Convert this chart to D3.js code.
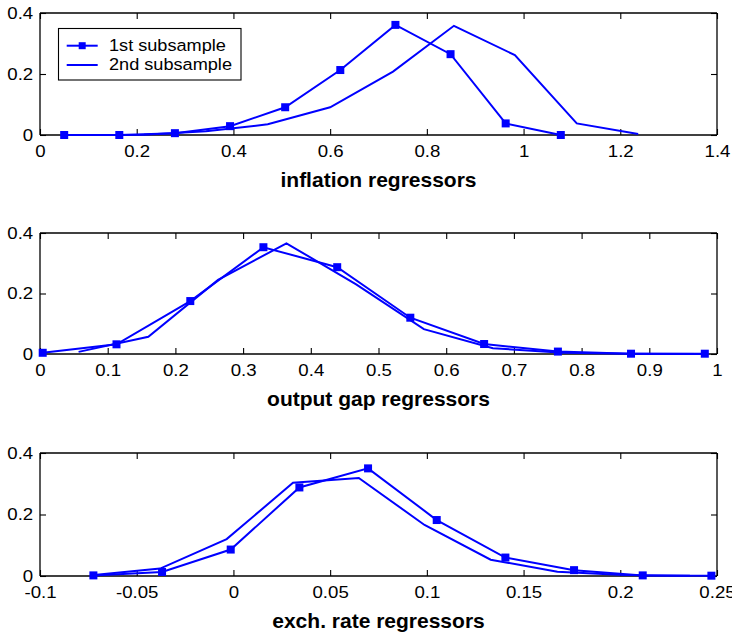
<!DOCTYPE html>
<html>
<head>
<meta charset="utf-8">
<script src="https://cdn.jsdelivr.net/npm/d3@7"></script>
<style>
  html, body { margin: 0; padding: 0; background: #fff; }
  svg { display: block; }
  text { font-family: "Liberation Sans", Arial, Helvetica, sans-serif; fill: #000; }
</style>
</head>
<body>
<svg id="chart" width="732" height="638"></svg>
<script>
// ---------- data ----------
const seriesNames = ["1st subsample", "2nd subsample"];

const inflX1 = [0.050, 0.164, 0.279, 0.393, 0.507, 0.621, 0.735, 0.849, 0.963, 1.077];
const inflY1 = [0.000, 0.000, 0.006, 0.029, 0.091, 0.213, 0.361, 0.265, 0.038, 0.000];
const inflX2 = [0.087, 0.215, 0.343, 0.471, 0.600, 0.730, 0.856, 0.982, 1.110, 1.237];
const inflY2 = [0.000, 0.001, 0.012, 0.035, 0.091, 0.208, 0.358, 0.262, 0.038, 0.003];

const gapX1 = [0.004, 0.113, 0.222, 0.330, 0.439, 0.547, 0.656, 0.765, 0.873, 0.982];
const gapY1 = [0.004, 0.032, 0.175, 0.353, 0.287, 0.120, 0.033, 0.008, 0.001, 0.001];
const gapX2 = [0.057, 0.160, 0.263, 0.364, 0.467, 0.567, 0.669, 0.772, 0.875, 0.978];
const gapY2 = [0.007, 0.057, 0.245, 0.366, 0.230, 0.082, 0.019, 0.004, 0.001, 0.000];

const exX1 = [-0.0724, -0.0369, -0.0014, 0.0341, 0.0696, 0.1051, 0.1406, 0.1761, 0.2116, 0.2471];
const exY1 = [0.002, 0.013, 0.086, 0.288, 0.350, 0.182, 0.060, 0.019, 0.002, 0.001];
const exX2 = [-0.0721, -0.0379, -0.0035, 0.0308, 0.0648, 0.0988, 0.1330, 0.1675, 0.2017, 0.2360];
const exY2 = [0.003, 0.024, 0.120, 0.303, 0.319, 0.166, 0.053, 0.014, 0.003, 0.001];

const inflTicks = [0, 0.2, 0.4, 0.6, 0.8, 1, 1.2, 1.4];
const gapTicks = [0, 0.1, 0.2, 0.3, 0.4, 0.5, 0.6, 0.7, 0.8, 0.9, 1];
const exTicks = [-0.1, -0.05, 0, 0.05, 0.1, 0.15, 0.2, 0.25];
const yTicks = [0, 0.2, 0.4];

const titles = ["inflation regressors", "output gap regressors", "exch. rate regressors"];

// ---------- panels ----------
const panels = [
  { xs: [inflX1, inflX2], ys: [inflY1, inflY2], xDomain: [0, 1.4], xTicks: inflTicks, title: titles[0], top: 13, bottom: 135, legend: true },
  { xs: [gapX1, gapX2], ys: [gapY1, gapY2], xDomain: [0, 1], xTicks: gapTicks, title: titles[1], top: 233, bottom: 354 },
  { xs: [exX1, exX2], ys: [exY1, exY2], xDomain: [-0.1, 0.25], xTicks: exTicks, title: titles[2], top: 453, bottom: 576 }
];

const left = 40, right = 717;
const blue = "#0000ff";
const tickLen = 6;
const fmt = v => String(+v.toFixed(2));
const stretch = 1.13;

const svg = d3.select("#chart");

panels.forEach(p => {
  const x = d3.scaleLinear().domain(p.xDomain).range([left, right]);
  const y = d3.scaleLinear().domain([0, 0.4]).range([p.bottom, p.top]);
  const g = svg.append("g");

  // axes
  const ax = g.append("g").attr("transform", `translate(0,${p.bottom})`)
    .call(d3.axisBottom(x).tickValues(p.xTicks).tickFormat(fmt).tickSize(-tickLen).tickPadding(10));
  const axTop = g.append("g").attr("transform", `translate(0,${p.top})`)
    .call(d3.axisTop(x).tickValues(p.xTicks).tickFormat("").tickSize(-tickLen));
  const ay = g.append("g").attr("transform", `translate(${left},0)`)
    .call(d3.axisLeft(y).tickValues(yTicks).tickFormat(fmt).tickSize(-tickLen).tickPadding(6));
  const ayR = g.append("g").attr("transform", `translate(${right},0)`)
    .call(d3.axisRight(y).tickValues(yTicks).tickFormat("").tickSize(-tickLen));

  [ax, axTop, ay, ayR].forEach(a => {
    a.select(".domain").attr("stroke", "#000").attr("stroke-width", 1.3);
    a.selectAll(".tick line").attr("stroke", "#000").attr("stroke-width", 1.1);
    a.selectAll(".tick text").attr("font-size", 16.5)
      .attr("font-family", '"Liberation Sans", Arial, sans-serif')
      .attr("fill", "#000")
      .attr("transform", `scale(${stretch},1)`);
  });
  // remove domain end caps outward (make plain box)
  ax.select(".domain").attr("d", `M${left},0H${right}`);
  axTop.select(".domain").attr("d", `M${left},0H${right}`);
  ay.select(".domain").attr("d", `M0,${p.bottom}V${p.top}`);
  ayR.select(".domain").attr("d", `M0,${p.bottom}V${p.top}`);

  // series
  const line = d3.line().x(d => x(d[0])).y(d => y(d[1]));
  p.xs.forEach((xs, i) => {
    const data = xs.map((v, j) => [v, p.ys[i][j]]);
    g.append("path").datum(data)
      .attr("d", line)
      .attr("fill", "none")
      .attr("stroke", blue)
      .attr("stroke-width", 2)
      .attr("stroke-linejoin", "miter");
    if (i === 0) {
      g.selectAll(null).data(data).enter().append("rect")
        .attr("x", d => x(d[0]) - 4)
        .attr("y", d => y(d[1]) - 4)
        .attr("width", 8).attr("height", 8)
        .attr("fill", blue);
    }
  });

  // title
  g.append("text")
    .attr("x", (left + right) / 2)
    .attr("y", p.bottom + 52)
    .attr("text-anchor", "middle")
    .attr("font-size", 21)
    .attr("font-weight", "bold")
    .text(p.title);

  // legend
  if (p.legend) {
    const lg = svg.append("g");
    lg.append("rect")
      .attr("x", 58.5).attr("y", 28.5)
      .attr("width", 182.5).attr("height", 51.5)
      .attr("fill", "#fff").attr("stroke", "#000").attr("stroke-width", 1.1);
    const rows = [45.7, 65];
    seriesNames.forEach((name, i) => {
      lg.append("line")
        .attr("x1", 66.7).attr("x2", 97.7)
        .attr("y1", rows[i]).attr("y2", rows[i])
        .attr("stroke", blue).attr("stroke-width", 2);
      if (i === 0) {
        lg.append("rect")
          .attr("x", 82.2 - 3.5).attr("y", rows[i] - 3.5)
          .attr("width", 7).attr("height", 7)
          .attr("fill", blue);
      }
      lg.append("text")
        .attr("x", 109 / 1.1)
        .attr("y", rows[i] + 5)
        .attr("font-size", 16.5)
        .attr("transform", "scale(1.1,1)")
        .text(name);
    });
  }
});
</script>
</body>
</html>
